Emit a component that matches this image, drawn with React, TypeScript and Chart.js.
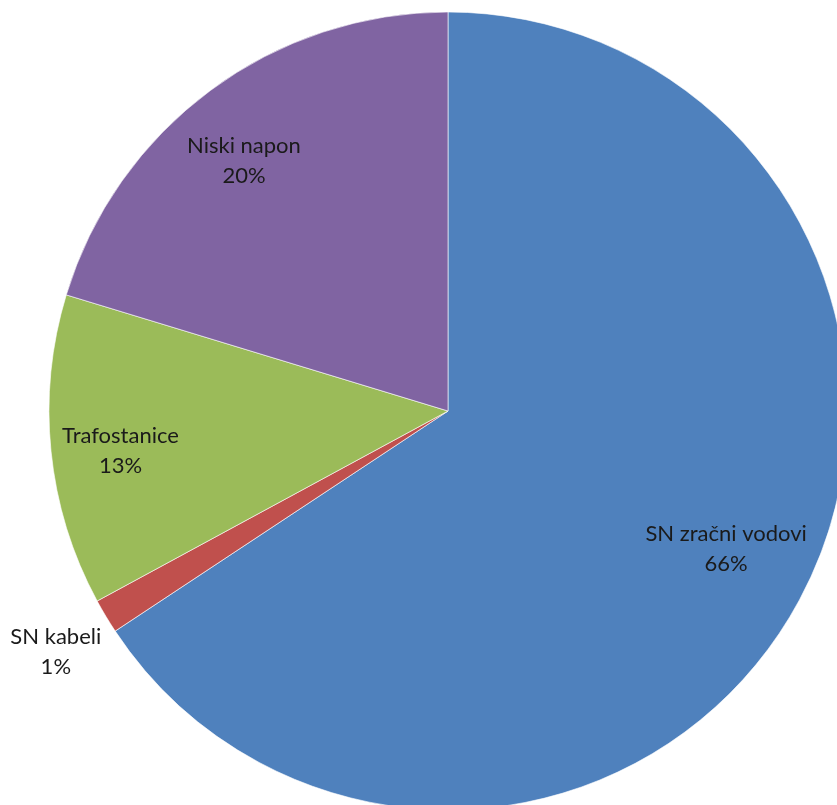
import React, { useEffect, useRef } from "react";
import { Chart, registerables } from "chart.js";

Chart.register(...registerables);

const categories = ["SN zračni vodovi", "SN kabeli", "Trafostanice", "Niski napon"];
const shares = [65.7, 1.4, 12.6, 20.3];
const colors = ["#4F81BD", "#C0504D", "#9BBB59", "#8064A2"];

const labelPlugin = {
  id: "sliceLabels",
  afterDatasetsDraw(chart: any, _args: any, opts: any) {
    const ctx = chart.ctx;
    const meta = chart.getDatasetMeta(0);
    const data = chart.data.datasets[0].data as number[];
    const total = data.reduce((a, b) => a + b, 0);
    ctx.save();
    ctx.font = opts.font;
    ctx.fillStyle = opts.color;
    ctx.textAlign = "center";
    ctx.textBaseline = "alphabetic";
    meta.data.forEach((arc: any, i: number) => {
      const mid = (arc.startAngle + arc.endAngle) / 2;
      const r = arc.outerRadius * opts.radiusFactors[i];
      const [nx, ny] = opts.nudges[i];
      const x = arc.x + Math.cos(mid) * r + nx;
      const y = arc.y + Math.sin(mid) * r + ny;
      const pct = Math.round((data[i] / total) * 100) + "%";
      ctx.fillText(chart.data.labels[i], x, y - opts.lineGap / 2 + 5);
      ctx.fillText(pct, x, y + opts.lineGap / 2 + 5);
    });
    ctx.restore();
  },
};

export default function App() {
  const ref = useRef<HTMLCanvasElement>(null);
  useEffect(() => {
    const chart = new Chart(ref.current!, {
      type: "pie",
      data: {
        labels: categories,
        datasets: [
          {
            data: shares,
            backgroundColor: colors,
            borderColor: "rgba(255,255,255,0.6)",
            borderWidth: 1,
            clip: false,
          } as any,
        ],
      },
      options: {
        responsive: false,
        animation: false,
        radius: 399,
        layout: { padding: { left: 59, right: 0, top: 17, bottom: 0 } },
        plugins: {
          legend: { display: false },
          tooltip: { enabled: false },
          sliceLabels: {
            font: "22px Lato",
            color: "#1a1a1a",
            lineGap: 30,
            radiusFactors: [0.78, 1.155, 0.825, 0.8],
            nudges: [
              [4, -7],
              [3, 6],
              [0, 9],
              [-14, 8],
            ],
          },
        } as any,
      } as any,
      plugins: [labelPlugin],
    });
    return () => chart.destroy();
  }, []);
  return (
    <div
      style={{
        position: "fixed",
        left: 0,
        top: 0,
        width: 837,
        height: 805,
        overflow: "hidden",
        background: "#fff",
      }}
    >
      <canvas ref={ref} width={837} height={805} style={{ display: "block" }} />
    </div>
  );
}
